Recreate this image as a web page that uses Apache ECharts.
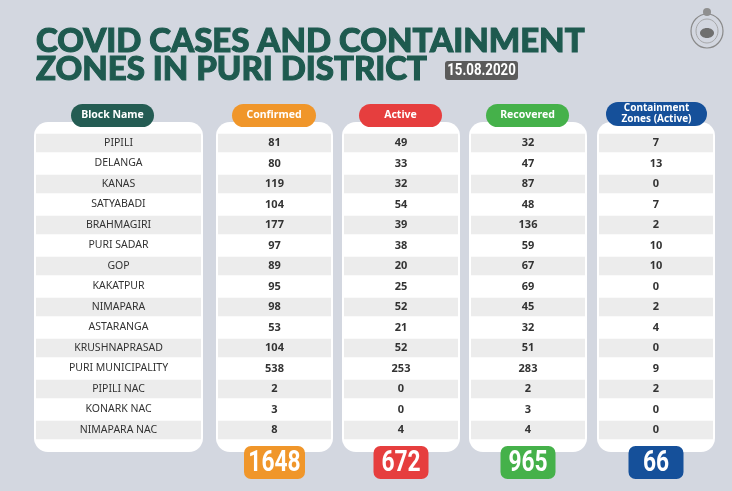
<!DOCTYPE html>
<html><head><meta charset="utf-8">
<script src="https://cdn.jsdelivr.net/npm/echarts@6/dist/echarts.min.js"></script>
<style>html,body{margin:0;padding:0;background:#d3d7e0}#c{width:732px;height:491px}</style>
</head><body><div id="c"></div>
<script>
const blocks = ['PIPILI','DELANGA','KANAS','SATYABADI','BRAHMAGIRI','PURI SADAR','GOP','KAKATPUR','NIMAPARA','ASTARANGA','KRUSHNAPRASAD','PURI MUNICIPALITY','PIPILI NAC','KONARK NAC','NIMAPARA NAC'];
const confirmed = [81,80,119,104,177,97,89,95,98,53,104,538,2,3,8];
const active = [49,33,32,54,39,38,20,25,52,21,52,253,0,0,4];
const recovered = [32,47,87,48,136,59,67,69,45,32,51,283,2,3,4];
const containment = [7,13,0,7,2,10,10,0,2,4,0,9,2,0,0];
const totals = [1648,672,965,66];
const headers = ['Block Name','Confirmed','Active','Recovered','Containment\nZones (Active)'];
const titleLines = ['COVID CASES AND CONTAINMENT','ZONES IN PURI DISTRICT'];
const dateText = '15.08.2020';

const columns = [blocks, confirmed, active, recovered, containment];
const cards = [{x:34,w:169},{x:216,w:117},{x:342,w:118},{x:469,w:118},{x:597,w:118}];
const colors = ['#245c53','#f0962a','#e63e3e','#45b14a','#15509a'];
const pills = [{x:71,y:104,w:83,h:23},{x:232,y:104,w:84,h:23},{x:359,y:104,w:83,h:23},{x:486,y:104,w:83,h:23},{x:606,y:102,w:101,h:24}];
const badgeW = [61,55,55,55];
const gridTop = 132.75, gridH = 307.5;

const grid = [], xAxis = [], yAxis = [], series = [];
columns.forEach((arr, k) => {
  grid.push({left: cards[k].x + 2, width: cards[k].w - 4, top: gridTop, height: gridH});
  yAxis.push({gridIndex:k, type:'category', inverse:true, data: blocks, show:false});
  xAxis.push({gridIndex:k, type:'value', min:0, max:1, show:false});
  const texts = arr.map(String);
  const font = k === 0 ? '10.5px "Noto Sans", sans-serif' : 'bold 11px "Noto Sans", sans-serif';
  series.push({
    type:'custom', xAxisIndex:k, yAxisIndex:k, silent:true,
    data: arr.map((v, i) => [0.5, i]),
    renderItem: function (params, api) {
      const i = api.value(1);
      const c = api.coord([0.5, i]);
      const l = api.coord([0, i])[0], r = api.coord([1, i])[0];
      const bh = api.size([0, 1])[1];
      const ch = [];
      if (i % 2 === 0) ch.push({type:'rect', shape:{x:l, y:c[1]-(bh-2)/2, width:r-l, height:bh-2}, style:{fill:'#ececec'}});
      ch.push({type:'text', style:{text:texts[params.dataIndex], x:c[0], y:c[1], align:'center', verticalAlign:'middle', font:font, fill:'#333'}});
      return {type:'group', children: ch};
    }
  });
  if (k > 0) {
    series.push({
      type:'custom', xAxisIndex:k, yAxisIndex:k, silent:true, z:3,
      data: [[0.5, blocks.length - 1, totals[k-1]]],
      renderItem: function (params, api) {
        const c = api.coord([0.5, api.value(1)]);
        const w = badgeW[k-1];
        return {type:'group', children:[
          {type:'rect', shape:{x:c[0]-w/2, y:c[1]+16, width:w, height:33, r:7}, style:{fill:colors[k]}},
          {type:'text', x:c[0], y:c[1]+33, scaleX:0.76, style:{text:String(api.value(2)), x:0, y:0, align:'center', verticalAlign:'middle', font:'bold 30px Roboto, sans-serif', fill:'#fff'}}
        ]};
      }
    });
  }
});

const graphic = [];
cards.forEach(c => graphic.push({type:'rect', shape:{x:c.x, y:122, width:c.w, height:330, r:14}, style:{fill:'#fff'}, z:0}));
pills.forEach((p, k) => {
  graphic.push({type:'rect', shape:{x:p.x, y:p.y, width:p.w, height:p.h, r:p.h/2}, style:{fill:colors[k]}, z:1});
  graphic.push({type:'text', style:{text:headers[k], x:p.x+p.w/2, y:p.y+p.h/2, align:'center', verticalAlign:'middle',
    font: k === 4 ? 'bold 10px "Noto Sans", sans-serif' : 'bold 10.5px "Noto Sans", sans-serif', lineHeight:11, fill:'#fff'}, z:2});
});
const titleStyle = {verticalAlign:'middle', font:'900 33px Lato, sans-serif', fill:'#1e5a4f', stroke:'#1e5a4f', lineWidth:1.1};
graphic.push({type:'text', style:Object.assign({text:titleLines[0], x:36, y:41}, titleStyle), z:2});
graphic.push({type:'text', style:Object.assign({text:titleLines[1], x:36, y:69}, titleStyle), z:2});
graphic.push({type:'rect', shape:{x:445, y:61, width:73, height:19, r:3}, style:{fill:'#5b5b5b'}, z:1});
graphic.push({type:'text', x:481.5, y:71, scaleX:0.78, style:{text:dateText, x:0, y:0, align:'center', verticalAlign:'middle', font:'bold 17px Roboto, sans-serif', fill:'#fff'}, z:2});
// emblem
graphic.push({type:'ellipse', shape:{cx:707, cy:31, rx:16, ry:17}, style:{fill:'none', stroke:'#8a8a8a', lineWidth:1.2}, z:1});
graphic.push({type:'ellipse', shape:{cx:707, cy:31, rx:11, ry:12}, style:{fill:'none', stroke:'#9a9a9a', lineWidth:0.8}, z:1});
graphic.push({type:'circle', shape:{cx:707, cy:12, r:4}, style:{fill:'#8f8f8f'}, z:1});
graphic.push({type:'ellipse', shape:{cx:707, cy:33, rx:7, ry:5}, style:{fill:'#6f6f6f'}, z:1});

const chart = echarts.init(document.getElementById('c'), null, {renderer:'canvas'});
chart.setOption({backgroundColor:'#d3d7e0', animation:false, grid, xAxis, yAxis, series, graphic});
</script></body></html>
